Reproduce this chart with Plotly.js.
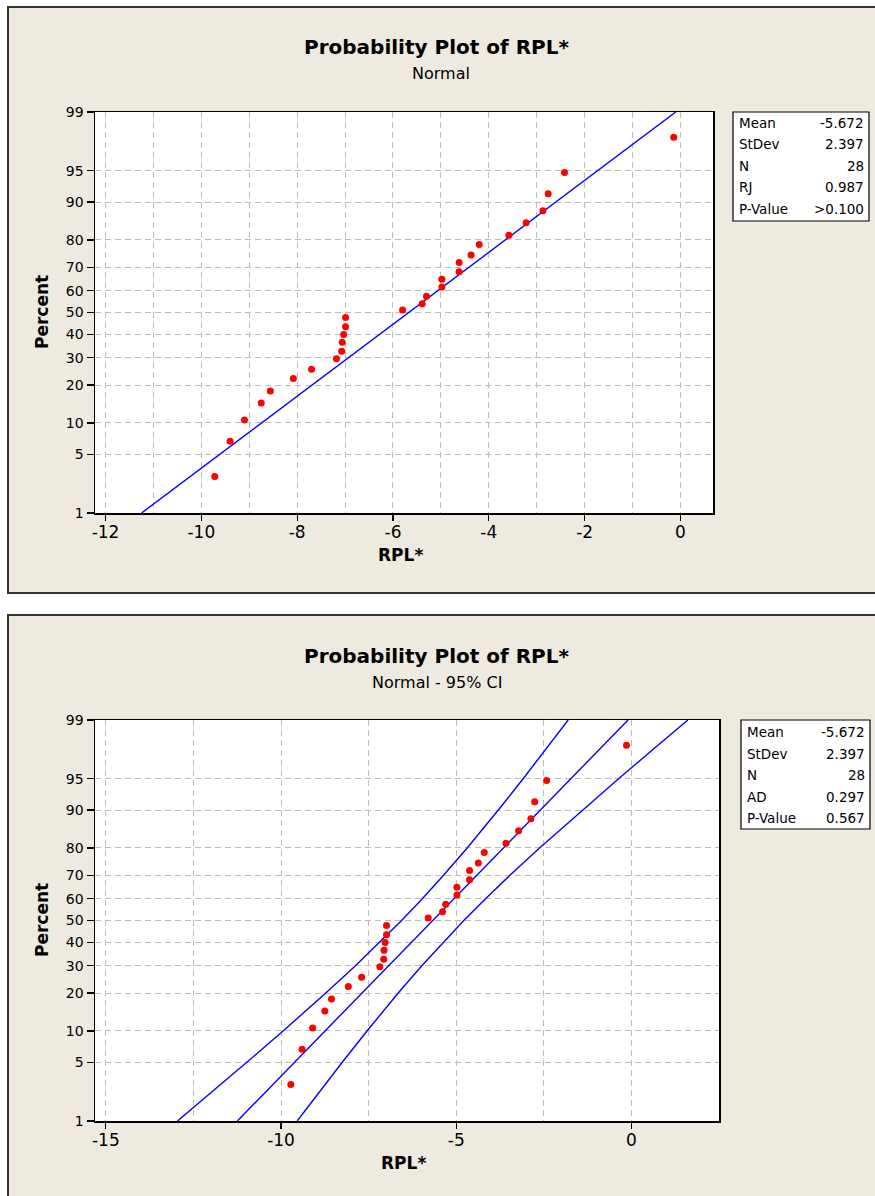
<!DOCTYPE html>
<html><head><meta charset="utf-8">
<script src="https://cdn.plot.ly/plotly-3.0.1.min.js"></script>
<style>
html,body{margin:0;padding:0;background:#fff;overflow:hidden;width:875px;height:1196px}
.panel{position:absolute;box-sizing:border-box;background:#EEEAE0;border:2px solid #333}
#p1{left:7px;top:6px;width:890px;height:588px}
#p2{left:7px;top:614px;width:890px;height:620px}
#chart{position:absolute;left:0;top:0;width:875px;height:1196px}
</style></head>
<body>
<div class="panel" id="p1"></div>
<div class="panel" id="p2"></div>
<div id="chart"></div>
<script>
// ---- data ----
const percentTicks = [1, 5, 10, 20, 30, 40, 50, 60, 70, 80, 90, 95, 99];
const xTicks1 = [-12, -10, -8, -6, -4, -2, 0];
const xTickLabels1 = ["-12", "-10", "-8", "-6", "-4", "-2", "0"];
const xTicks2 = [-15, -10, -5, 0];
const xTickLabels2 = ["-15", "-10", "-5", "0"];
const rpl = [-9.72, -9.40, -9.10, -8.75, -8.56, -8.08, -7.70, -7.18, -7.07, -7.06, -7.03, -6.99, -6.99,
             -5.80, -5.39, -5.30, -4.98, -4.98, -4.62, -4.62, -4.37, -4.20, -3.58, -3.22, -2.87, -2.76, -2.42, -0.14];
const pct = [2.85, 6.77, 10.6, 14.7, 18.1, 22.2, 25.5, 29.6, 32.7, 36.5, 39.9, 43.4, 47.7,
             51.2, 54.0, 57.5, 61.6, 65.0, 68.2, 71.9, 74.8, 78.5, 81.5, 85.1, 88.1, 91.6, 94.8, 97.9];
const fitPct = [1, 2, 5, 10, 20, 30, 40, 50, 60, 70, 80, 90, 95, 98, 99];
const fitX   = [-11.248, -10.595, -9.615, -8.744, -7.689, -6.929, -6.279, -5.672, -5.065, -4.415, -3.655, -2.600, -1.729, -0.749, -0.096];
const ciLower = [-12.957, -12.161, -10.977, -9.942, -8.722, -7.876, -7.181, -6.560, -5.967, -5.362, -4.688, -3.798, -3.091, -2.315, -1.805];
const ciUpper = [-9.539, -9.029, -8.253, -7.546, -6.656, -5.982, -5.377, -4.784, -4.163, -3.468, -2.622, -1.402, -0.367, 0.817, 1.613];
const statsLabels1 = ["Mean", "StDev", "N", "RJ", "P-Value"];
const statsValues1 = ["-5.672", "2.397", "28", "0.987", ">0.100"];
const statsLabels2 = ["Mean", "StDev", "N", "AD", "P-Value"];
const statsValues2 = ["-5.672", "2.397", "28", "0.297", "0.567"];

// ---- normal probability scale ----
function qnorm(p){
  const a=[-3.969683028665376e+01,2.209460984245205e+02,-2.759285104469687e+02,1.383577518672690e+02,-3.066479806614716e+01,2.506628277459239e+00];
  const b=[-5.447609879822406e+01,1.615858368580409e+02,-1.556989798598866e+02,6.680131188771972e+01,-1.328068155288572e+01];
  const c=[-7.784894002430293e-03,-3.223964580411365e-01,-2.400758277161838e+00,-2.549732539343734e+00,4.374664141464968e+00,2.938163982698783e+00];
  const d=[7.784695709041462e-03,3.224671290700398e-01,2.445134137142996e+00,3.754408661907416e+00];
  const pl=0.02425, ph=1-pl; let q,r;
  if(p<pl){q=Math.sqrt(-2*Math.log(p));return (((((c[0]*q+c[1])*q+c[2])*q+c[3])*q+c[4])*q+c[5])/((((d[0]*q+d[1])*q+d[2])*q+d[3])*q+1);}
  if(p>ph){q=Math.sqrt(-2*Math.log(1-p));return -(((((c[0]*q+c[1])*q+c[2])*q+c[3])*q+c[4])*q+c[5])/((((d[0]*q+d[1])*q+d[2])*q+d[3])*q+1);}
  q=p-0.5;r=q*q;
  return (((((a[0]*r+a[1])*r+a[2])*r+a[3])*r+a[4])*r+a[5])*q/(((((b[0]*r+b[1])*r+b[2])*r+b[3])*r+b[4])*r+1);
}
const Z = arr => arr.map(p => qnorm(p/100));

const W = 875, H = 1196;
const px = x => x / W, py = y => 1 - y / H;
const FONT = "DejaVu Sans, Verdana, sans-serif";
const BLUE = "#0000FF", RED = "#FF0000";

const traces = [
  {x: fitX, y: Z(fitPct), xaxis:'x', yaxis:'y', mode:'lines', line:{color:BLUE, width:1.4}},
  {x: rpl, y: Z(pct), xaxis:'x', yaxis:'y', mode:'markers', marker:{color:RED, size:7}},
  {x: ciLower, y: Z(fitPct), xaxis:'x2', yaxis:'y2', mode:'lines', line:{color:BLUE, width:1.4}},
  {x: fitX, y: Z(fitPct), xaxis:'x2', yaxis:'y2', mode:'lines', line:{color:BLUE, width:1.4}},
  {x: ciUpper, y: Z(fitPct), xaxis:'x2', yaxis:'y2', mode:'lines', line:{color:BLUE, width:1.4}},
  {x: rpl, y: Z(pct), xaxis:'x2', yaxis:'y2', mode:'markers', marker:{color:RED, size:7}}
];

const zr = [qnorm(0.01), qnorm(0.99)];
const gridC = "#bdbdbd";
const DASH = "6px,4px";
function xax(domain, range, tv, tt, minor){
  return {domain, range, tickmode:'array', tickvals:tv, ticktext:tt,
    showgrid:true, gridcolor:gridC, griddash:DASH, gridwidth:1,
    minor:{tickmode:'linear', dtick:minor, tick0:0, showgrid:true, gridcolor:gridC, griddash:DASH, gridwidth:1, ticks:''},
    showline:true, mirror:true, linecolor:'#000', linewidth:1.5, ticks:'outside', ticklen:6, tickcolor:'#000', tickwidth:1.2,
    ticklabelstandoff:-3,
    zeroline:false, tickfont:{family:FONT, size:17, color:'#000'}, fixedrange:true};
}
function yax(domain, anchor){
  return {domain, anchor, range:zr, tickmode:'array', tickvals:Z(percentTicks), ticktext:percentTicks.map(String),
    showgrid:true, gridcolor:gridC, griddash:DASH, gridwidth:1,
    showline:true, mirror:true, linecolor:'#000', linewidth:1.5, ticks:'outside', ticklen:7, tickcolor:'#000', tickwidth:1.2,
    zeroline:false, tickfont:{family:FONT, size:14, color:'#000'}, fixedrange:true};
}

const ann = [];
function txt(x, y, text, size, bold, opts){
  ann.push(Object.assign({xref:'paper', yref:'paper', x:px(x), y:py(y), text: bold ? '<b>'+text+'</b>' : text,
    showarrow:false, xanchor:'center', yanchor:'middle', font:{family:FONT, size, color:'#000'}}, opts||{}));
}
txt(437, 47, 'Probability Plot of RPL*', 20, true);
txt(441, 73, 'Normal', 16, false);
txt(437, 656, 'Probability Plot of RPL*', 20, true);
txt(437, 682, 'Normal - 95% CI', 16, false);
txt(42, 312, 'Percent', 17, true, {textangle:-90});
txt(42, 920, 'Percent', 17, true, {textangle:-90});
txt(400, 555, 'RPL*', 17, true);
txt(403, 1163, 'RPL*', 17, true);

const shapes = [
  {type:'rect', xref:'paper', yref:'paper', x0:px(733), x1:px(869), y0:py(221), y1:py(112), fillcolor:'#fff', line:{color:'#000', width:1.2}},
  {type:'rect', xref:'paper', yref:'paper', x0:px(741), x1:px(870), y0:py(829), y1:py(720), fillcolor:'#fff', line:{color:'#000', width:1.2}}
];
const rows1 = [123, 144.5, 166, 187.5, 209];
statsLabels1.forEach((l, i) => {
  txt(737, rows1[i], l, 13.5, false, {xanchor:'left'});
  txt(866, rows1[i], statsValues1[i], 13.5, false, {xanchor:'right'});
});
const rows2 = [732, 753.5, 775, 796.5, 818];
statsLabels2.forEach((l, i) => {
  txt(745, rows2[i], l, 13.5, false, {xanchor:'left'});
  txt(867, rows2[i], statsValues2[i], 13.5, false, {xanchor:'right'});
});

const layout = {
  width:W, height:H, margin:{l:0, r:0, t:0, b:0},
  paper_bgcolor:'rgba(0,0,0,0)', plot_bgcolor:'#fff', showlegend:false,
  xaxis: Object.assign(xax([px(95), px(713)], [-12.22, 0.68], xTicks1, xTickLabels1, 1), {anchor:'y'}),
  yaxis: yax([py(513), py(112)], 'x'),
  xaxis2: Object.assign(xax([px(95), px(719)], [-15.31, 2.50], xTicks2, xTickLabels2, 2.5), {anchor:'y2'}),
  yaxis2: yax([py(1121), py(720)], 'x2'),
  annotations: ann, shapes
};
Plotly.newPlot('chart', traces, layout, {staticPlot:true, displayModeBar:false});
</script>
</body></html>
